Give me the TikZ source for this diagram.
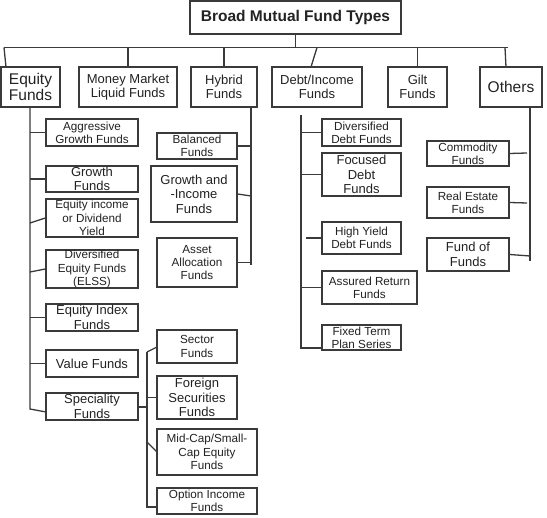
\documentclass[tikz,border=0pt]{standalone}
\usepackage{fontspec}
\setmainfont{Liberation Sans}
\usetikzlibrary{calc}
\definecolor{linecol}{HTML}{3A3A3A}
\definecolor{txtcol}{HTML}{222222}
\newcommand\mkbox[7]{%
  \pgfmathsetmacro\bcx{(#2+#4)/2}%
  \pgfmathsetmacro\bcy{(#3+#5)/2}%
  \pgfmathsetmacro\bbw{#4-#2}%
  \pgfmathsetmacro\bbh{#5-#3}%
  \node[box,#6,minimum width=\bbw pt,minimum height=\bbh pt] (#1) at (\bcx,\bcy) {#7};}
\tikzset{
  box/.style={draw=linecol, line width=1.3pt, inner sep=0pt, align=center, text=txtcol, fill=white},
  sm/.style={font=\fontsize{11.7}{13.3}\selectfont},
  md/.style={font=\fontsize{13}{14.4}\selectfont},
  lg/.style={font=\fontsize{15.5}{16.5}\selectfont},
  ttl/.style={font=\bfseries\fontsize{15.5}{17}\selectfont},
  conn/.style={draw=linecol, line width=1.3pt},
}
\begin{document}
\begin{tikzpicture}[x=1pt,y=-1pt]
\useasboundingbox (0,0) rectangle (547,518);
% top level
\mkbox{title}{190}{1}{401}{34}{ttl}{Broad Mutual Fund Types}
\mkbox{eq}{1}{67}{60}{107}{lg}{Equity\\Funds}
\mkbox{mm}{79}{67}{177}{107}{md}{Money Market\\Liquid Funds}
\mkbox{hy}{191}{67}{257}{107}{md}{Hybrid\\Funds}
\mkbox{de}{272}{67}{362}{107}{md}{Debt/Income\\Funds}
\mkbox{gi}{388}{67}{447}{107}{md}{Gilt\\Funds}
\mkbox{ot}{480}{67}{542}{107}{lg}{Others}
% bus
\coordinate (busL) at (4,47.5);
\coordinate (busR) at (508,47.5);
\draw[conn] (busL) -- (busR);
\draw[conn] (title.south) -- (title.south |- busL);
\draw[conn] (busL) -- (6,67) coordinate (eqin);
\draw[conn] (mm.north) -- (mm.north |- busL);
\draw[conn] (hy.north) -- (hy.north |- busL);
\draw[conn] (317,47.5) coordinate (debus) -- (311,67) coordinate (dein);
\draw[conn] (gi.north) -- (gi.north |- busL);
\draw[conn] (505,47.5) coordinate (otbus) -- (506,67) coordinate (otin);

% Equity column
\mkbox{agg}{46}{119}{138}{146}{sm}{Aggressive\\Growth Funds}
\mkbox{gro}{46}{166}{138}{192}{md}{Growth\\Funds}
\mkbox{eqi}{46}{199}{138}{237}{sm}{Equity income\\or Dividend\\Yield}
\mkbox{div}{46}{250}{138}{288}{sm}{Diversified\\Equity Funds\\(ELSS)}
\mkbox{idx}{46}{304}{138}{331}{md}{Equity Index\\Funds}
\mkbox{val}{46}{350}{138}{377}{md}{Value Funds}
\mkbox{spe}{46}{393}{138}{420}{md}{Speciality\\Funds}
\coordinate (eqtop) at (30,107);
\coordinate (eqbot) at (30,409);
\draw[conn] (eqtop) -- (eqbot) -- (46,412) coordinate (spein);
\draw[conn] (eqtop |- agg.west) -- (agg.west);
\draw[conn] (eqtop |- gro.west) -- (gro.west);
\draw[conn] ($(eqtop |- eqi.west)+(0,5)$) -- (eqi.west);
\draw[conn] ($(eqtop |- div.west)+(0,3)$) -- (div.west);
\draw[conn] (eqtop |- idx.west) -- (idx.west);
\draw[conn] (eqtop |- val.west) -- (val.west);

% Speciality sub
\mkbox{sec}{157}{330}{237}{363}{sm}{Sector\\Funds}
\mkbox{for}{157}{376}{237}{419}{md}{Foreign\\Securities\\Funds}
\mkbox{mid}{157}{429}{257}{475}{sm}{Mid-Cap/Small-\\Cap Equity\\Funds}
\mkbox{opt}{157}{488}{257}{514}{sm}{Option Income\\Funds}
\coordinate (sptop) at (147,352);
\coordinate (spbot) at (147,507);
\draw[conn] (sptop) -- (spbot) -- (opt.west |- spbot);
\draw[conn] (sptop) -- (157,347) coordinate (secin);
\draw[conn] (spe.east |- 0,407) -- (sptop |- 0,407);
\draw[conn] (sptop |- for.west) -- (for.west);
\draw[conn] (147,442) coordinate (midout) -- (157,452) coordinate (midin);

% Hybrid column
\mkbox{bal}{157}{133}{237}{159}{sm}{Balanced\\Funds}
\mkbox{gai}{151}{166}{237}{222}{md}{Growth and\\-Income\\Funds}
\mkbox{aaf}{157}{238}{237}{287}{sm}{Asset\\Allocation\\Funds}
\coordinate (hytop) at (251,107);
\coordinate (hybot) at (251,265);
\draw[conn] (hytop) -- (hybot);
\draw[conn] (bal.east) -- (bal.east -| hytop);
\draw[conn] (gai.east) -- ($(gai.east -| hytop)+(0,2)$);
\draw[conn] (aaf.east) -- (aaf.east -| hytop);

% Debt column
\mkbox{ddf}{322}{119}{401}{146}{sm}{Diversified\\Debt Funds}
\mkbox{fdf}{322}{153}{401}{196}{md}{Focused\\Debt\\Funds}
\mkbox{hyd}{322}{222}{401}{254}{sm}{High Yield\\Debt Funds}
\mkbox{arf}{322}{271}{417}{304}{sm}{Assured Return\\Funds}
\mkbox{ftp}{322}{325}{401}{350}{sm}{Fixed Term\\Plan Series}
\coordinate (detop) at (301,115);
\coordinate (debot) at (301,348);
\draw[conn] (detop) -- (debot) -- (ftp.west |- debot);
\draw[conn] (detop |- ddf.west) -- (ddf.west);
\draw[conn] (detop |- fdf.west) -- (fdf.west);
\draw[conn] (306,238) coordinate (hydout) -- (hyd.west);
\draw[conn] (detop |- arf.west) -- (arf.west);

% Others column
\mkbox{com}{427}{141}{509}{166}{sm}{Commodity\\Funds}
\mkbox{ref}{427}{187}{509}{218}{sm}{Real Estate\\Funds}
\mkbox{fof}{427}{238}{509}{271}{md}{Fund of\\Funds}
\coordinate (ottop) at (530,107);
\coordinate (otbot) at (530,261);
\draw[conn] (ottop) -- (otbot);
\draw[conn] (com.east) -- (527,153) coordinate (comout);
\draw[conn] (ref.east) -- (527,203) coordinate (refout);
\draw[conn] (fof.east) -- (530,256) coordinate (fofout);
\end{tikzpicture}
\end{document}
